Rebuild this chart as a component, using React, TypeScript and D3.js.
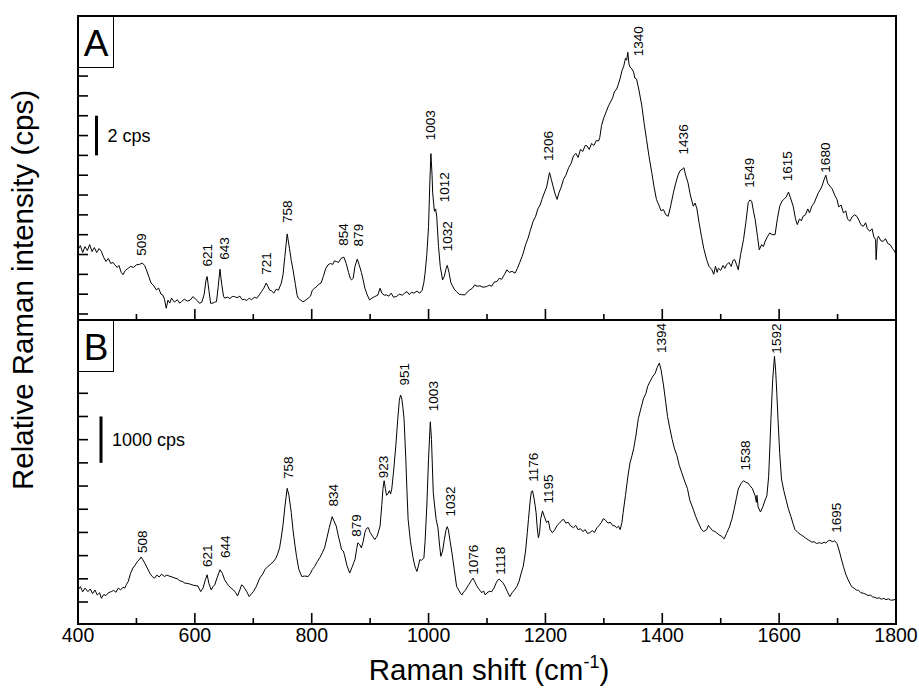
import React from "react";
import * as d3 from "d3";

// ---- data -------------------------------------------------------------

// Spectrum A: [Raman shift (cm-1), intensity (cps)]
const spectrumA: [number, number][] = [
  [400, 3.24], [404, 3.45], [408, 3.1], [412, 3.4], [416, 3.2], [420, 3.5], [424, 3.15], [428, 3.35],
  [432, 3.1], [436, 3.3], [440, 3.16], [444, 2.85], [448, 2.65], [452, 2.8], [456, 2.55], [460, 2.6],
  [463, 2.48], [467, 2.35], [470, 2.45], [474, 2.1], [477, 1.98], [481, 2.2], [486, 2.31], [490, 2.4],
  [495, 2.35], [500, 2.48], [505, 2.5], [510, 2.57], [514, 2.45], [517, 2.23], [521, 1.9], [525, 1.56],
  [529, 1.45], [534, 1.22], [538, 1.3], [542, 1.0], [545, 0.96], [548, 0.75], [551, 0.29], [554, 0.7],
  [557, 0.55], [560, 0.8], [565, 0.6], [570, 0.72], [574, 0.55], [577, 0.62], [582, 0.75], [587, 0.65],
  [592, 0.7], [597, 0.88], [601, 0.75], [605, 0.65], [608, 0.54], [612, 0.6], [616, 1.0], [619, 1.7],
  [621, 1.89], [624, 1.2], [627, 0.54], [631, 0.55], [634, 0.6], [637, 0.62], [640, 1.4], [643, 2.26],
  [646, 1.5], [649, 0.9], [651, 0.8], [656, 0.85], [660, 0.78], [664, 0.88], [668, 0.88], [672, 0.82],
  [677, 0.9], [681, 0.72], [685, 0.74], [689, 0.68], [693, 0.8], [697, 0.72], [702, 0.84], [706, 0.8],
  [710, 0.95], [714, 1.13], [718, 1.3], [722, 1.56], [725, 1.4], [728, 1.2], [731, 1.18], [735, 1.05],
  [739, 1.25], [743, 1.2], [748, 1.56], [751, 2.0], [754, 2.9], [758, 4.04], [762, 3.3], [765, 2.7],
  [768, 2.23], [772, 1.5], [775, 0.95], [777, 0.8], [781, 0.7], [785, 0.62], [789, 0.68], [794, 0.8],
  [798, 0.9], [801, 1.2], [805, 1.3], [809, 1.4], [812, 1.5], [816, 1.56], [820, 1.9], [824, 2.3],
  [828, 2.48], [832, 2.55], [836, 2.5], [839, 2.68], [842, 2.65], [846, 2.6], [850, 2.8], [855, 2.87],
  [859, 2.55], [863, 2.1], [866, 1.8], [868, 1.72], [871, 1.8], [874, 2.4], [878, 2.77], [881, 2.5],
  [885, 2.1], [888, 1.72], [891, 1.3], [895, 0.96], [899, 0.71], [903, 0.8], [908, 0.88], [913, 0.95],
  [917, 1.3], [920, 1.05], [924, 0.95], [928, 0.96], [932, 0.9], [936, 1.05], [940, 0.85], [945, 0.88],
  [950, 1.0], [955, 0.95], [959, 1.05], [963, 1.13], [967, 0.98], [971, 1.1], [975, 1.05], [980, 1.15],
  [985, 1.05], [989, 1.2], [992, 1.6], [994, 2.06], [997, 3.0], [1000, 4.42], [1002, 6.5], [1004, 8.09],
  [1006, 7.0], [1007, 6.11], [1010, 5.18], [1012, 5.3], [1014, 4.9], [1017, 3.41], [1020, 2.4],
  [1024, 1.72], [1027, 1.9], [1030, 2.3], [1032, 2.45], [1035, 2.1], [1038, 1.6], [1040, 1.47],
  [1044, 1.25], [1048, 1.13], [1052, 1.0], [1056, 0.98], [1062, 0.96], [1066, 1.1], [1070, 1.2],
  [1075, 1.3], [1079, 1.47], [1083, 1.4], [1088, 1.42], [1093, 1.35], [1099, 1.38], [1104, 1.45],
  [1108, 1.4], [1112, 1.6], [1117, 1.64], [1121, 1.8], [1125, 1.75], [1130, 2.0], [1134, 2.23],
  [1138, 2.1], [1143, 2.15], [1148, 2.06], [1152, 2.3], [1156, 2.6], [1160, 2.9], [1162, 3.07],
  [1166, 3.5], [1170, 3.8], [1174, 4.2], [1179, 4.68], [1183, 4.9], [1187, 5.3], [1191, 5.5],
  [1194, 5.78], [1198, 6.1], [1202, 6.4], [1207, 7.13], [1210, 6.8], [1213, 6.45], [1216, 6.1],
  [1220, 5.78], [1223, 6.1], [1227, 6.4], [1231, 6.79], [1235, 7.0], [1240, 7.4], [1244, 7.6],
  [1248, 7.97], [1252, 8.1], [1256, 7.9], [1260, 8.3], [1264, 8.2], [1268, 8.5], [1271, 8.48],
  [1275, 8.3], [1279, 8.6], [1283, 8.5], [1287, 8.75], [1291, 8.73], [1293, 8.9], [1296, 9.5],
  [1300, 9.9], [1304, 10.2], [1308, 10.5], [1311, 10.67], [1315, 10.9], [1318, 11.2], [1322, 11.35],
  [1325, 11.6], [1328, 11.9], [1331, 12.27], [1334, 12.5], [1337, 12.9], [1339, 12.8], [1341, 13.2],
  [1343, 12.6], [1345, 12.45], [1348, 12.36], [1351, 12.2], [1353, 11.9], [1356, 11.85], [1360, 11.3],
  [1365, 10.5], [1369, 9.6], [1373, 8.81], [1377, 8.0], [1382, 7.13], [1386, 6.4], [1390, 5.78],
  [1394, 5.5], [1398, 5.2], [1402, 5.27], [1406, 5.0], [1410, 4.93], [1414, 5.4], [1419, 6.11],
  [1423, 6.6], [1427, 7.0], [1430, 7.21], [1434, 7.3], [1437, 7.38], [1440, 7.0], [1444, 6.62],
  [1448, 6.0], [1453, 5.44], [1456, 5.6], [1459, 5.35], [1463, 4.6], [1467, 3.92], [1471, 3.3],
  [1476, 2.74], [1480, 2.4], [1485, 2.23], [1488, 2.0], [1491, 2.4], [1494, 2.1], [1496, 2.31],
  [1500, 2.2], [1504, 2.45], [1507, 2.3], [1510, 2.48], [1514, 2.6], [1518, 2.4], [1521, 2.7],
  [1524, 2.74], [1527, 2.5], [1530, 2.23], [1534, 3.0], [1539, 3.75], [1543, 4.6], [1547, 5.61],
  [1550, 5.75], [1553, 5.69], [1556, 5.2], [1559, 4.76], [1563, 3.9], [1566, 3.24], [1570, 3.5],
  [1573, 3.4], [1576, 3.66], [1580, 3.9], [1584, 4.09], [1588, 4.0], [1593, 4.0], [1597, 4.8],
  [1601, 5.44], [1605, 5.7], [1608, 5.78], [1612, 5.9], [1616, 6.15], [1620, 5.8], [1624, 5.44],
  [1628, 4.8], [1631, 4.51], [1635, 4.8], [1638, 4.7], [1641, 4.93], [1645, 5.0], [1649, 5.3],
  [1652, 5.1], [1656, 5.44], [1660, 5.6], [1664, 5.9], [1667, 6.11], [1671, 6.3], [1674, 6.5],
  [1677, 6.79], [1680, 7.0], [1683, 6.6], [1687, 6.45], [1691, 6.3], [1695, 6.0], [1699, 5.78],
  [1702, 5.4], [1706, 5.5], [1710, 5.1], [1714, 5.2], [1717, 4.8], [1721, 4.68], [1725, 4.9],
  [1729, 5.0], [1733, 4.93], [1737, 4.7], [1740, 4.5], [1744, 4.42], [1748, 4.6], [1751, 4.3],
  [1755, 4.17], [1759, 4.3], [1762, 3.9], [1765, 3.75], [1766, 2.74], [1768, 3.8], [1770, 3.92],
  [1774, 3.7], [1778, 3.66], [1782, 3.8], [1786, 3.55], [1790, 3.5], [1794, 3.3], [1797, 3.2],
  [1800, 2.99],
];

// Spectrum B: [Raman shift (cm-1), intensity (cps)]
const spectrumB: [number, number][] = [
  [400, 261], [404, 330], [408, 220], [412, 300], [417, 224], [421, 280], [425, 180], [429, 260],
  [433, 150], [437, 200], [440, 80], [444, 160], [448, 140], [452, 200], [457, 224], [461, 250],
  [465, 210], [469, 300], [473, 260], [477, 320], [480, 298], [483, 380], [486, 442], [490, 620],
  [494, 733], [498, 800], [502, 880], [506, 928], [508, 970], [511, 913], [515, 820], [520, 696],
  [524, 600], [527, 550], [531, 515], [535, 580], [539, 540], [543, 600], [548, 550], [552, 580],
  [556, 560], [561, 540], [566, 515], [570, 500], [574, 460], [579, 440], [583, 406], [588, 400],
  [593, 380], [598, 360], [605, 348], [610, 224], [614, 300], [618, 480], [621, 587], [624, 400],
  [628, 261], [631, 330], [634, 370], [638, 520], [643, 696], [647, 620], [651, 478], [655, 400],
  [658, 350], [662, 298], [666, 260], [670, 200], [673, 130], [677, 260], [680, 370], [683, 340],
  [685, 298], [689, 220], [693, 116], [697, 180], [700, 224], [705, 330], [711, 515], [716, 600],
  [720, 700], [725, 768], [730, 820], [735, 880], [739, 950], [742, 1050], [745, 1167], [748, 1400],
  [751, 1674], [754, 2050], [758, 2450], [761, 2300], [765, 1928], [768, 1550], [771, 1250],
  [774, 985], [778, 700], [783, 550], [788, 560], [794, 550], [798, 620], [801, 700], [805, 768],
  [810, 880], [814, 960], [818, 1060], [822, 1167], [826, 1380], [830, 1600], [835, 1841],
  [838, 1750], [842, 1637], [846, 1400], [849, 1250], [851, 1130], [854, 1100], [856, 1022],
  [860, 800], [865, 624], [869, 750], [872, 850], [874, 913], [877, 1150], [879, 1276], [882, 1240],
  [885, 1167], [888, 1300], [891, 1500], [893, 1565], [895, 1600], [897, 1602], [900, 1500],
  [904, 1420], [908, 1348], [912, 1420], [915, 1550], [917, 1637], [920, 2100], [922, 2450],
  [924, 2615], [926, 2450], [928, 2300], [930, 2326], [933, 2400], [935, 2330], [937, 2435],
  [940, 2800], [944, 3376], [947, 3900], [950, 4350], [952, 4463], [954, 4400], [956, 4200],
  [958, 3957], [961, 3100], [963, 2400], [965, 1783], [969, 1300], [973, 985], [976, 800],
  [978, 720], [980, 659], [983, 800], [985, 913], [988, 900], [992, 950], [994, 1300], [997, 2072],
  [1000, 3100], [1003, 3885], [1005, 3500], [1008, 2363], [1011, 2000], [1013, 1783], [1016, 1600],
  [1019, 1200], [1021, 985], [1024, 1100], [1027, 1350], [1030, 1560], [1032, 1624], [1034, 1550],
  [1037, 1300], [1040, 1059], [1044, 700], [1048, 333], [1052, 250], [1055, 180], [1057, 152],
  [1060, 220], [1063, 250], [1065, 298], [1069, 380], [1073, 460], [1076, 515], [1079, 440],
  [1082, 360], [1085, 298], [1088, 250], [1091, 200], [1094, 240], [1097, 152], [1100, 200],
  [1104, 230], [1108, 224], [1112, 300], [1116, 420], [1118, 470], [1121, 493], [1124, 450],
  [1127, 420], [1131, 333], [1135, 220], [1139, 116], [1143, 200], [1147, 260], [1151, 333],
  [1155, 450], [1158, 600], [1162, 768], [1166, 1100], [1169, 1500], [1171, 1783], [1174, 2200],
  [1176, 2380], [1178, 2398], [1181, 2200], [1184, 1928], [1186, 1600], [1188, 1385], [1190, 1500],
  [1192, 1800], [1195, 1963], [1198, 1850], [1202, 1711], [1205, 1750], [1208, 1560], [1212, 1493],
  [1216, 1560], [1220, 1650], [1224, 1700], [1228, 1760], [1231, 1783], [1235, 1700], [1239, 1720],
  [1243, 1640], [1248, 1602], [1252, 1650], [1256, 1560], [1260, 1580], [1264, 1520], [1268, 1560],
  [1272, 1480], [1276, 1493], [1280, 1540], [1284, 1500], [1288, 1600], [1292, 1650], [1296, 1720],
  [1299, 1798], [1303, 1760], [1307, 1700], [1311, 1720], [1315, 1650], [1319, 1640], [1322, 1600],
  [1325, 1637], [1328, 1560], [1331, 1720], [1333, 1928], [1337, 2300], [1341, 2700], [1345, 3015],
  [1348, 3150], [1351, 3304], [1355, 3600], [1359, 3957], [1364, 4200], [1368, 4391], [1372, 4500],
  [1375, 4650], [1379, 4754], [1383, 4850], [1388, 4935], [1391, 5050], [1395, 5152], [1398, 5000],
  [1402, 4681], [1406, 4300], [1409, 4000], [1413, 3739], [1417, 3500], [1421, 3300], [1425, 3159],
  [1429, 2950], [1433, 2800], [1439, 2580], [1443, 2450], [1447, 2200], [1453, 2000], [1457, 1850],
  [1462, 1700], [1467, 1565], [1471, 1520], [1476, 1560], [1479, 1650], [1482, 1602], [1486, 1540],
  [1490, 1520], [1493, 1493], [1497, 1450], [1501, 1420], [1506, 1363], [1510, 1480], [1515, 1620],
  [1519, 1783], [1523, 2000], [1527, 2250], [1530, 2435], [1535, 2560], [1539, 2615], [1543, 2580],
  [1547, 2560], [1550, 2507], [1554, 2450], [1559, 2289], [1561, 2150], [1562, 2300], [1564, 2050],
  [1568, 1941], [1572, 2050], [1576, 2200], [1579, 2289], [1582, 2700], [1584, 3300], [1586, 3957],
  [1589, 4800], [1592, 5297], [1594, 5000], [1596, 4500], [1598, 3957], [1601, 3200], [1604, 2652],
  [1608, 2400], [1612, 2200], [1616, 2000], [1620, 1850], [1624, 1680], [1627, 1565], [1632, 1500],
  [1636, 1460], [1641, 1420], [1645, 1380], [1650, 1340], [1656, 1290], [1660, 1300], [1664, 1260],
  [1669, 1280], [1673, 1261], [1677, 1290], [1680, 1270], [1684, 1320], [1687, 1333], [1691, 1300],
  [1695, 1320], [1699, 1261], [1703, 1100], [1706, 950], [1710, 768], [1714, 600], [1718, 480],
  [1722, 380], [1724, 333], [1728, 300], [1732, 260], [1736, 250], [1740, 200], [1744, 189],
  [1748, 170], [1752, 140], [1756, 150], [1760, 110], [1764, 100], [1767, 80], [1771, 90],
  [1775, 60], [1779, 80], [1783, 50], [1787, 70], [1791, 40], [1795, 43], [1800, 60],
];

// Peak annotations: [label, shift where the label sits, intensity of the label's base]
const peaksA: [string, number, number][] = [
  ["509", 509, 2.94], ["621", 621, 2.4], ["643", 651, 2.74], ["721", 723, 1.98],
  ["758", 758, 4.59], ["854", 854, 3.44], ["879", 880, 3.41], ["1003", 1004, 8.76],
  ["1012", 1027, 5.64], ["1032", 1032, 3.16], ["1206", 1206, 7.72], ["1340", 1359, 13.0],
  ["1436", 1436, 8.05], ["1549", 1550, 6.37], ["1615", 1615, 6.7], ["1680", 1680, 7.13],
];

const peaksB: [string, number, number][] = [
  ["508", 511, 1059], ["621", 621, 754], ["644", 653, 950], ["758", 761, 2652],
  ["834", 838, 2059], ["879", 876, 1407], ["923", 923, 2667], ["951", 958, 4668],
  ["1003", 1008, 4115], ["1032", 1037, 1841], ["1076", 1077, 587], ["1118", 1123, 587],
  ["1176", 1180, 2594], ["1195", 1205, 2124], ["1394", 1398, 5370], ["1538", 1542, 2833],
  ["1592", 1596, 5355], ["1695", 1699, 1494],
];

const xTicks = d3.range(400, 1801, 100);
const xTickLabels = ["400", "600", "800", "1000", "1200", "1400", "1600", "1800"];
const yTicksA = d3.range(0, 16, 1); // cps
const yTicksB = d3.range(0, 6001, 500); // cps

// ---- layout -----------------------------------------------------------

const W = 919;
const H = 688;
const left = 78;
const right = 896;
const topA = 16;
const mid = 320;
const bottomB = 624;
const FONT = "'Liberation Sans', Arial, Helvetica, sans-serif";

const x = d3.scaleLinear().domain([400, 1800]).range([left, right]);
const yA = d3.scaleLinear().domain([-0.3026, 15.03]).range([mid, topA]);
const yB = d3.scaleLinear().domain([-474, 6080]).range([bottomB, mid]);

type PanelProps = {
  data: [number, number][];
  y: d3.ScaleLinear<number, number>;
  yTicks: number[];
  peaks: [string, number, number][];
  letter: string;
  top: number;
  bottom: number;
  barFrom: number;
  barTo: number;
  barLabel: string;
  barX: number;
};

function Panel({ data, y, yTicks, peaks, letter, top, bottom, barFrom, barTo, barLabel, barX }: PanelProps) {
  const line = d3
    .line<[number, number]>()
    .x((d) => x(d[0]))
    .y((d) => y(d[1]));
  const clipId = `clip-${letter}`;
  return (
    <g>
      <defs>
        <clipPath id={clipId}>
          <rect x={left} y={top} width={right - left} height={bottom - top} />
        </clipPath>
      </defs>
      {/* y ticks, pointing inward */}
      {yTicks.map((t) => (
        <line key={t} x1={left} x2={left + 10} y1={y(t)} y2={y(t)} stroke="#000" strokeWidth={1.6} />
      ))}
      {/* x ticks along the panel's bottom edge, pointing inward */}
      {xTicks.map((t) => {
        const major = t % 200 === 0;
        return (
          <line
            key={t}
            x1={x(t)}
            x2={x(t)}
            y1={bottom}
            y2={bottom - (major ? 11 : 6)}
            stroke="#000"
            strokeWidth={1.6}
          />
        );
      })}
      <path
        d={line(data) ?? ""}
        fill="none"
        stroke="#000"
        strokeWidth={1}
        strokeLinejoin="round"
        clipPath={`url(#${clipId})`}
      />
      {peaks.map(([label, pos, v]) => (
        <text
          key={label + pos}
          transform={`translate(${x(pos)},${y(v)}) rotate(-90)`}
          fontFamily={FONT}
          fontSize={13.5}
          dominantBaseline="central"
          textAnchor="start"
          fill="#000"
        >
          {label}
        </text>
      ))}
      {/* intensity scale bar */}
      <line x1={barX} x2={barX} y1={y(barFrom)} y2={y(barTo)} stroke="#000" strokeWidth={3} />
      <text
        x={barX + 11}
        y={(y(barFrom) + y(barTo)) / 2}
        fontFamily={FONT}
        fontSize={18}
        dominantBaseline="central"
        fill="#000"
      >
        {barLabel}
      </text>
      {/* panel letter box */}
      <rect x={left} y={top} width={35.5} height={51.5} fill="#fff" stroke="#000" strokeWidth={1} />
      <text x={left + 18} y={top + 40} fontFamily={FONT} fontSize={37} textAnchor="middle" fill="#000">
        {letter}
      </text>
    </g>
  );
}

export default function App() {
  return (
    <svg
      width={W}
      height={H}
      viewBox={`0 0 ${W} ${H}`}
      style={{ position: "absolute", left: 0, top: 0, background: "#fff" }}
    >
      <rect x={0} y={0} width={W} height={H} fill="#fff" />
      <Panel
        data={spectrumA}
        y={yA}
        yTicks={yTicksA}
        peaks={peaksA}
        letter="A"
        top={topA}
        bottom={mid}
        barFrom={8}
        barTo={10}
        barLabel="2 cps"
        barX={96.5}
      />
      <Panel
        data={spectrumB}
        y={yB}
        yTicks={yTicksB}
        peaks={peaksB}
        letter="B"
        top={mid}
        bottom={bottomB}
        barFrom={3000}
        barTo={4000}
        barLabel="1000 cps"
        barX={101}
      />
      {/* frame */}
      <rect x={left} y={topA} width={right - left} height={bottomB - topA} fill="none" stroke="#000" strokeWidth={2} />
      <line x1={left} x2={right} y1={mid} y2={mid} stroke="#000" strokeWidth={2} />
      {/* x tick labels */}
      {xTickLabels.map((s) => (
        <text key={s} x={x(+s)} y={642} fontFamily={FONT} fontSize={19.5} textAnchor="middle" fill="#000">
          {s}
        </text>
      ))}
      <text x={(left + right) / 2 + 2} y={680} fontFamily={FONT} fontSize={29.5} textAnchor="middle" fill="#000">
        Raman shift (cm
        <tspan fontSize={18} dy={-12}>-1</tspan>
        <tspan dy={12}>)</tspan>
      </text>
      <text
        transform={`translate(33,290) rotate(-90)`}
        fontFamily={FONT}
        fontSize={29.5}
        textAnchor="middle"
        fill="#000"
      >
        Relative Raman intensity (cps)
      </text>
    </svg>
  );
}
